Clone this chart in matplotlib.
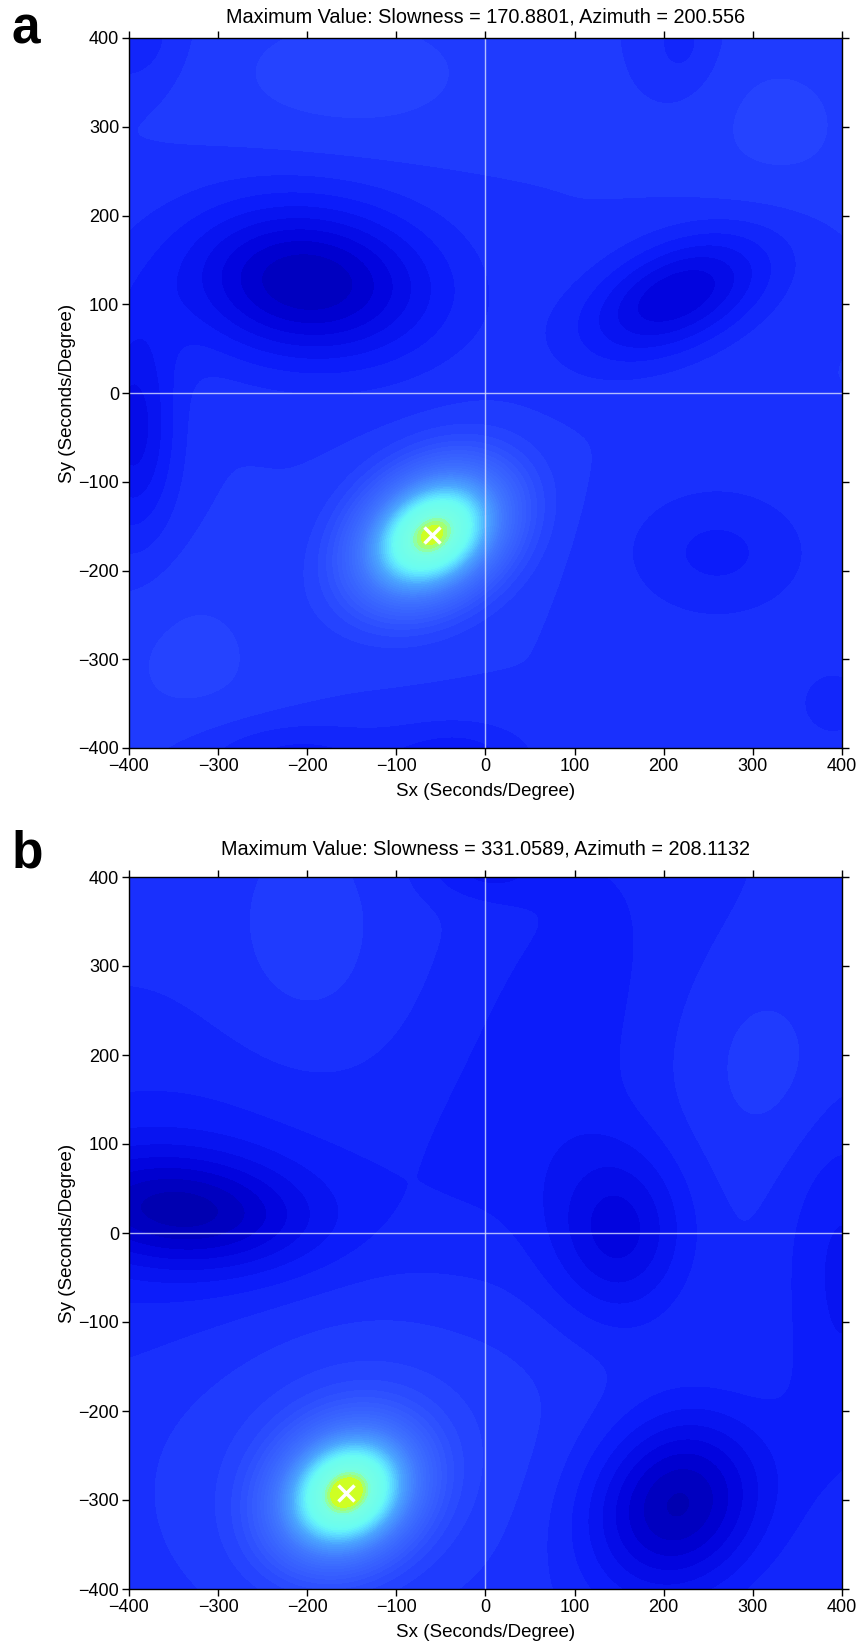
import numpy as np
import matplotlib
matplotlib.use("Agg")
import matplotlib.pyplot as plt
from matplotlib.colors import LinearSegmentedColormap

plt.rcParams['font.family'] = ['Liberation Sans', 'DejaVu Sans']

# ---------------- data ----------------
panel_labels = ["a", "b"]
max_slowness = [170.8801, 331.0589]
max_azimuth = [200.556, 208.1132]
title_values = ["170.8801", "200.556", "331.0589", "208.1132"]
tick_values = [-400, -300, -200, -100, 0, 100, 200, 300, 400]
background_level = [0.20, 0.185]

# beam-power features of panel a (centre x, centre y, amplitude, sigma major, sigma minor, angle deg)
a_cx = [-60, -200, 215, -395, 260, -220, -30, -400, 220, 390, -150, 330, -330]
a_cy = [-160, 125, 110, -40, -180, -410, -410, 400, 390, -350, 360, 300, -300]
a_amp = [0.80, -0.16, -0.12, -0.09, -0.045, -0.05, -0.05, -0.04, -0.03, -0.035, 0.03, 0.025, 0.025]
a_sa = [56, 100, 80, 35, 75, 80, 60, 40, 30, 30, 120, 80, 80]
a_sb = [41, 62, 42, 90, 55, 30, 30, 40, 40, 30, 60, 80, 80]
a_ang = [35, -5, 25, 0, 0, 0, 0, 0, 0, 0, 0, 0, 0]

# beam-power features of panel b
b_cx = [-156, -140, -340, -350, 150, 215, 80, 400, 0, -200, 350]
b_cy = [-292, -230, 25, 40, 0, -305, 220, -30, 410, 330, 180]
b_amp = [0.80, 0.05, -0.12, -0.04, -0.09, -0.15, -0.035, -0.05, -0.045, 0.025, 0.03]
b_sa = [52, 160, 100, 200, 55, 75, 90, 50, 50, 70, 80]
b_sb = [43, 130, 45, 120, 70, 65, 220, 180, 25, 110, 90]
b_ang = [35, 30, -5, 0, 0, 50, -20, 0, 0, 0, 45]

# colour table (value, RGB)
cmap_pos = [0.00, 0.08, 0.15, 0.22, 0.30, 0.45, 0.60, 0.72, 0.78, 0.93, 0.975, 1.00]
cmap_rgb = [(0, 0, 155), (0, 0, 218), (12, 28, 250), (35, 65, 255), (52, 90, 255),
            (65, 120, 255), (75, 165, 255), (95, 230, 255), (105, 252, 242),
            (120, 255, 225), (165, 255, 110), (225, 255, 0)]

# ---------------- build the figure ----------------
cmap = LinearSegmentedColormap.from_list(
    "beam", [(p, tuple(c / 255 for c in rgb)) for p, rgb in zip(cmap_pos, cmap_rgb)])

s = np.linspace(-400, 400, 401)
SX, SY = np.meshgrid(s, s)


def field(base, cx, cy, amp, sa, sb, ang):
    z = np.full_like(SX, base, dtype=float)
    for x0, y0, a, s1, s2, t in zip(cx, cy, amp, sa, sb, ang):
        th = np.deg2rad(t)
        u = (SX - x0) * np.cos(th) + (SY - y0) * np.sin(th)
        v = -(SX - x0) * np.sin(th) + (SY - y0) * np.cos(th)
        z += a * np.exp(-0.5 * (u ** 2 / s1 ** 2 + v ** 2 / s2 ** 2))
    return np.clip(z, 0, 1)


fields = [field(background_level[0], a_cx, a_cy, a_amp, a_sa, a_sb, a_ang),
          field(background_level[1], b_cx, b_cy, b_amp, b_sa, b_sb, b_ang)]

fig = plt.figure(figsize=(8.62, 16.5), dpi=100)
axes_rects = [[129 / 862, 1 - 748 / 1650, 713 / 862, 710 / 1650],
              [129 / 862, 1 - 1589 / 1650, 713 / 862, 712 / 1650]]
label_top_px = [6, 829]
title_pads = [11, 16]
levels = np.linspace(0, 1, 51)

for i in range(2):
    ax = fig.add_axes(axes_rects[i])
    cs = ax.contourf(SX, SY, fields[i], levels=levels, cmap=cmap)
    cs.set_edgecolor('face')
    cs.set_linewidth(0.4)
    ax.axvline(0, color=(0.85, 0.88, 1.0), lw=1.0, alpha=0.8)
    ax.axhline(0, color=(0.85, 0.88, 1.0), lw=1.0, alpha=0.8)
    az = np.deg2rad(max_azimuth[i])
    px = max_slowness[i] * np.sin(az)
    py = max_slowness[i] * np.cos(az)
    ax.plot(px, py, marker='x', color='white', ms=12, mew=2.5)
    ax.set_xlim(-400, 400)
    ax.set_ylim(-400, 400)
    ax.set_xticks(tick_values)
    ax.set_yticks(tick_values)
    ax.tick_params(direction='out', length=5, width=1, labelsize=13,
                   top=True, right=True, colors='black', pad=2)
    for sp in ax.spines.values():
        sp.set_linewidth(1.0)
    ax.set_xlabel("Sx (Seconds/Degree)", fontsize=13.5, labelpad=6)
    ax.set_ylabel("Sy (Seconds/Degree)", fontsize=13.5, labelpad=2)
    ax.set_title("Maximum Value: Slowness = %s, Azimuth = %s"
                 % (title_values[2 * i], title_values[2 * i + 1]), fontsize=14.3,
                 pad=title_pads[i])
    fig.text(12 / 862, 1 - label_top_px[i] / 1650, panel_labels[i],
             fontsize=37, fontweight='bold', ha='left', va='top')

fig.savefig("out.png", dpi=100)
